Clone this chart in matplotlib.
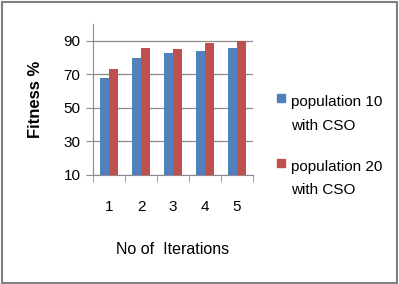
import matplotlib
matplotlib.use("Agg")
import matplotlib.pyplot as plt
import numpy as np
from matplotlib.patches import Rectangle

plt.rcParams['font.family'] = ['Liberation Sans', 'DejaVu Sans']

iterations = ["1", "2", "3", "4", "5"]
pop10 = [68, 80, 83, 84, 85.5]
pop20 = [73, 85.5, 85, 88.5, 90]
series_names = [["population 10", "with CSO"], ["population 20", "with CSO"]]
colors = ["#4F81BD", "#C0504D"]

W, H = 399, 284
fig = plt.figure(figsize=(W / 100, H / 100), dpi=100)
fig.patches.append(Rectangle((0.004, 0.004), 0.99, 0.99, transform=fig.transFigure,
                             fill=False, edgecolor="#808080", linewidth=1.5))
ax = fig.add_axes([93 / W, 1 - 175 / H, 160 / W, 151 / H])

x = np.arange(len(iterations))
w = 0.28
ax.bar(x - w/2, pop10, w, bottom=0, color=colors[0], zorder=3)
ax.bar(x + w/2, pop20, w, bottom=0, color=colors[1], zorder=3)

ax.set_ylim(10, 100)
ax.set_xlim(-0.5, 4.5)
ax.set_yticks([10, 30, 50, 70, 90])
ax.yaxis.grid(True, color="#8c8c8c", linewidth=0.9, zorder=0)
ax.set_xticks(x)
ax.set_xticklabels(iterations)
ax.set_xticks(np.arange(-0.5, 5, 1), minor=True)
ax.tick_params(axis='x', which='major', length=0, pad=18, labelsize=11)
ax.tick_params(axis='x', which='minor', length=5, color="#8c8c8c", direction='out')
ax.tick_params(axis='y', length=5, color="#8c8c8c", labelsize=11, pad=4)
for s in ['top', 'right']:
    ax.spines[s].set_visible(False)
for s in ['left', 'bottom']:
    ax.spines[s].set_color("#8c8c8c")

ax.set_ylabel("Fitness %", fontsize=12, fontweight='bold', labelpad=15)
ax.set_xlabel("No of  Iterations", fontsize=11.5, labelpad=20)

# legend (manual, to keep the marker beside the first line as in the reference)
leg_rows = [(94, 106, 130), (159, 171, 194)]
for (sq_top, b1, b2), names, c in zip(leg_rows, series_names, colors):
    fig.patches.append(Rectangle((277 / W, 1 - (sq_top + 8) / H), 8 / W, 8 / H,
                                 transform=fig.transFigure, color=c))
    fig.text(291 / W, 1 - b1 / H, names[0], fontsize=11, va='baseline', ha='left')
    fig.text(291 / W, 1 - b2 / H, names[1], fontsize=11, va='baseline', ha='left')

fig.savefig("out.png", dpi=100)
